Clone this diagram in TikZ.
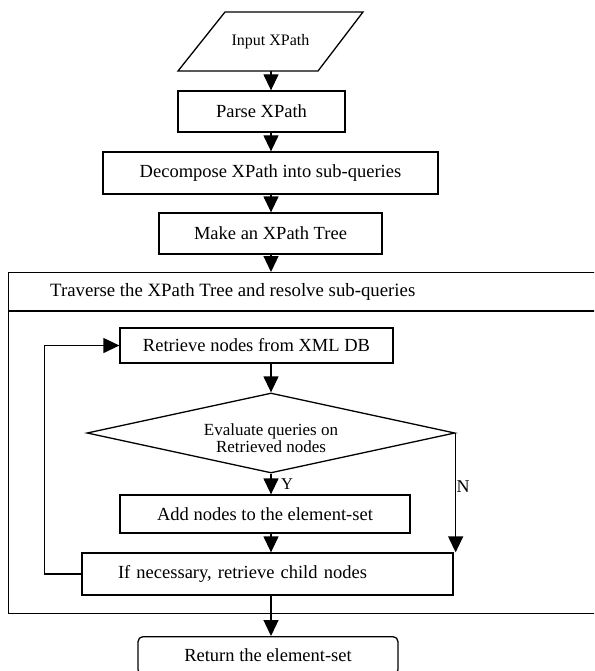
\documentclass[tikz,border=0pt]{standalone}
\usepackage{fontspec}
\setmainfont{Liberation Serif}
\usetikzlibrary{shapes.geometric}
\usetikzlibrary{arrows.meta}

\begin{document}
\begin{tikzpicture}[x=1pt,y=-1pt,
  stepbox/.style={draw=black,line width=1.3pt,rectangle,inner sep=0pt,font=\fontsize{18.5}{21}\selectfont},
  flow/.style={draw=black,line width=1.3pt,-{Triangle[width=15pt,length=16pt]}}]
\useasboundingbox (0,0) rectangle (594,671);
\clip (0,0) rectangle (594,671);
\coordinate (axis) at (271,0);
\draw[black,line width=1.3pt] (178,71) -- (225,12) -- (363,12) -- (318,71) -- cycle;
\node[rectangle,minimum width=140pt,minimum height=59pt,inner sep=0pt,font=\fontsize{16}{18}\selectfont] (input) at (270.5,41.5) {Input XPath};
\node[stepbox,minimum width=167pt,minimum height=41pt] (parse) at (261.5,111.5) {Parse XPath};
\node[stepbox,minimum width=335pt,minimum height=42pt] (decomp) at (270.5,173) {Decompose XPath into sub-queries};
\node[stepbox,minimum width=223pt,minimum height=41pt] (tree) at (270.5,233.5) {Make an XPath Tree};

\node[draw=black,line width=1.3pt,rectangle,minimum width=600pt,minimum height=341pt,inner sep=0pt,anchor=north west] (trav) at (8,272) {};
\draw[black,line width=1.3pt] (trav.north west) ++(0,39) -- ++(600,0);
\node[font=\fontsize{18.8}{21}\selectfont,anchor=west,inner sep=0pt] (travtitle) at (50,292) {Traverse the XPath Tree and resolve sub-queries};

\node[stepbox,minimum width=273pt,minimum height=35pt] (retr) at (256.5,345.5) {Retrieve nodes from XML DB};
\node[diamond,aspect=4.6,draw=black,line width=1.3pt,minimum width=368pt,minimum height=80pt,inner sep=0pt,align=center,font=\fontsize{17}{17}\selectfont] (eval) at (271,433) {\rule{0pt}{22pt}Evaluate queries on\\Retrieved nodes};
\node[stepbox,minimum width=290pt,minimum height=38pt] (add) at (265,514) {Add nodes to the element-set};
\node[stepbox,minimum width=371pt,minimum height=42pt,inner xsep=36pt,text width=299pt,align=left] (ifnec) at (267.5,574) {If necessary, retrieve child nodes};
\node[stepbox,rounded corners=5pt,minimum width=260pt,minimum height=38pt,anchor=north] (ret) at (268,636) {Return the element-set};

\node[font=\fontsize{16.5}{18}\selectfont] (ylab) at (287,484) {Y};
\node[font=\fontsize{18}{20}\selectfont] (nlab) at (463,487) {N};

\draw[flow] (input.south -| axis) -- (parse.north -| axis);
\draw[flow] (parse.south -| axis) -- (decomp.north -| axis);
\draw[flow] (decomp.south -| axis) -- (tree.north -| axis);
\draw[flow] (tree.south -| axis) -- (trav.north -| axis);
\draw[flow] (retr.south -| axis) -- (eval.north);
\draw[flow] (eval.south) -- (add.north -| axis);
\draw[flow] (add.south -| axis) -- (ifnec.north -| axis);
\draw[flow] (eval.east) -- (eval.east |- ifnec.north);
\draw[flow] (ifnec.west) -- ++(-37,0) |- (retr.west);
\draw[flow] (ifnec.south -| axis) -- (ret.north -| axis);

\end{tikzpicture}
\end{document}
